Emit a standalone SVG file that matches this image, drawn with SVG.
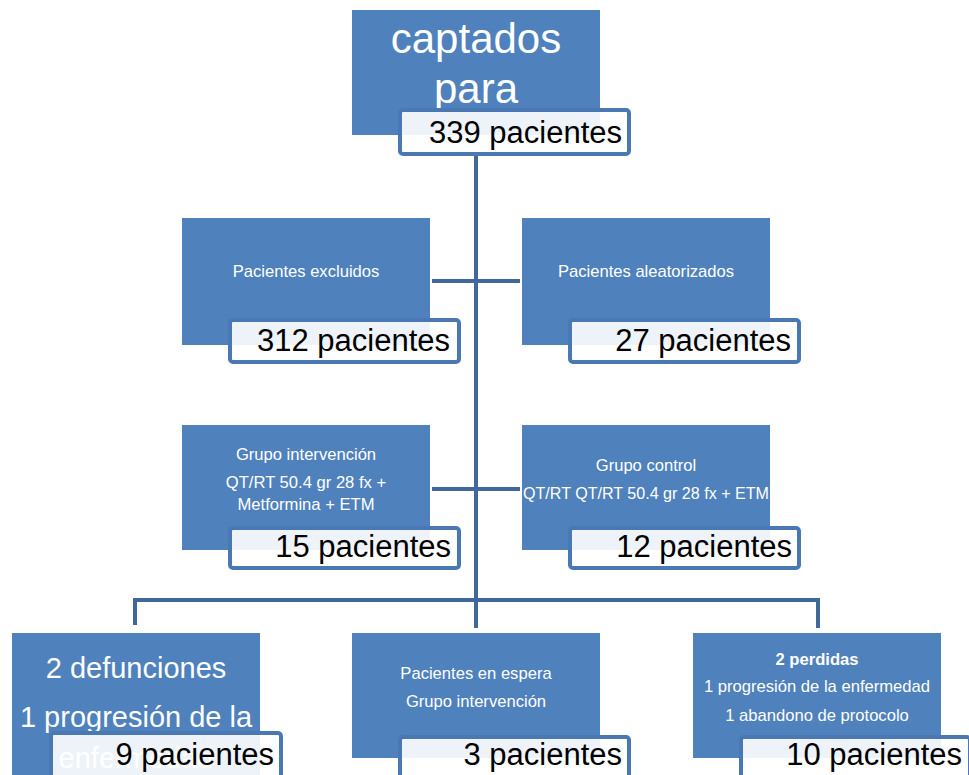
<svg xmlns="http://www.w3.org/2000/svg" width="969" height="775" viewBox="0 0 969 775">
<style>
.box{fill:#4f81bd}
.lbl{fill:#ffffff;fill-opacity:0.9;stroke:#4a78b2;stroke-width:4}
.num{font-family:"Liberation Sans",Arial,sans-serif;font-size:31px;fill:#000;text-anchor:end}
.t{font-family:"Liberation Sans",Arial,sans-serif;font-size:16.6px;fill:#fff;text-anchor:middle}
.big{font-family:"Liberation Sans",Arial,sans-serif;fill:#fff;text-anchor:middle}
.con{stroke:#41689b;stroke-width:4;fill:none}
</style>
<defs>
<clipPath id="c1"><rect x="352" y="10" width="248" height="125"/></clipPath>
<clipPath id="c2"><rect x="12" y="633" width="248" height="142"/></clipPath>
</defs>
<rect width="969" height="775" fill="#fff"/>
<g id="connectors">
<line class="con" x1="476" y1="155" x2="476" y2="602"/>
<line class="con" x1="432" y1="281" x2="520" y2="281"/>
<line class="con" x1="432" y1="489" x2="520" y2="489"/>
<path class="con" d="M135 625 V600 H818 V628"/>
<line class="con" x1="476" y1="600" x2="476" y2="628"/>
</g>
<g id="n-captados">
<rect class="box" x="352" y="10" width="248" height="125"/>
<g clip-path="url(#c1)">
<text class="big" x="476" y="53" font-size="42">captados</text>
<text class="big" x="476" y="103" font-size="42">para</text>
</g>
<rect class="lbl" x="400" y="110" width="229" height="44" rx="3"/>
<text class="num" x="622" y="143">339 pacientes</text>
</g>
<g id="n-excluidos">
<rect class="box" x="182" y="218" width="248" height="127"/>
<text class="t" x="306" y="277">Pacientes excluidos</text>
<rect class="lbl" x="230" y="320" width="229" height="42" rx="3"/>
<text class="num" x="450" y="351">312 pacientes</text>
</g>
<g id="n-aleatorizados">
<rect class="box" x="522" y="218" width="248" height="127"/>
<text class="t" x="646" y="277">Pacientes aleatorizados</text>
<rect class="lbl" x="570" y="320" width="229" height="42" rx="3"/>
<text class="num" x="791" y="351">27 pacientes</text>
</g>
<g id="n-intervencion">
<rect class="box" x="182" y="425" width="248" height="125"/>
<text class="t" x="306" y="460">Grupo intervención</text>
<text class="t" x="306" y="488">QT/RT 50.4 gr 28 fx +</text>
<text class="t" x="306" y="510">Metformina + ETM</text>
<rect class="lbl" x="230" y="528" width="229" height="40" rx="3"/>
<text class="num" x="451" y="557" font-size="28">15 pacientes</text>
</g>
<g id="n-control">
<rect class="box" x="522" y="425" width="248" height="125"/>
<text class="t" x="646" y="471">Grupo control</text>
<text class="t" x="646" y="499" textLength="246" lengthAdjust="spacingAndGlyphs">QT/RT QT/RT 50.4 gr 28 fx + ETM</text>
<rect class="lbl" x="570" y="528" width="229" height="40" rx="3"/>
<text class="num" x="792" y="557" font-size="28">12 pacientes</text>
</g>
<g id="n-perdidas-int">
<rect class="box" x="12" y="633" width="248" height="142"/>
<g clip-path="url(#c2)">
<text class="big" x="136" y="678" font-size="29">2 defunciones</text>
<text class="big" x="136" y="727" font-size="29">1 progresión de la</text>
<text class="big" x="136" y="768" font-size="29">enfermedad</text>
</g>
<rect class="lbl" x="51" y="733" width="230" height="46" rx="3"/>
<text class="num" x="274" y="765">9 pacientes</text>
</g>
<g id="n-espera">
<rect class="box" x="352" y="633" width="248" height="125"/>
<text class="t" x="476" y="679">Pacientes en espera</text>
<text class="t" x="476" y="707">Grupo intervención</text>
<rect class="lbl" x="400" y="737" width="229" height="42" rx="3"/>
<text class="num" x="622" y="765">3 pacientes</text>
</g>
<g id="n-perdidas-ctrl">
<rect class="box" x="693" y="633" width="248" height="125"/>
<text class="t" x="817" y="665" font-weight="bold">2 perdidas</text>
<text class="t" x="817" y="692">1 progresión de la enfermedad</text>
<text class="t" x="817" y="721">1 abandono de protocolo</text>
<rect class="lbl" x="741" y="737" width="229" height="42" rx="3"/>
<text class="num" x="962" y="765">10 pacientes</text>
</g>
</svg>
